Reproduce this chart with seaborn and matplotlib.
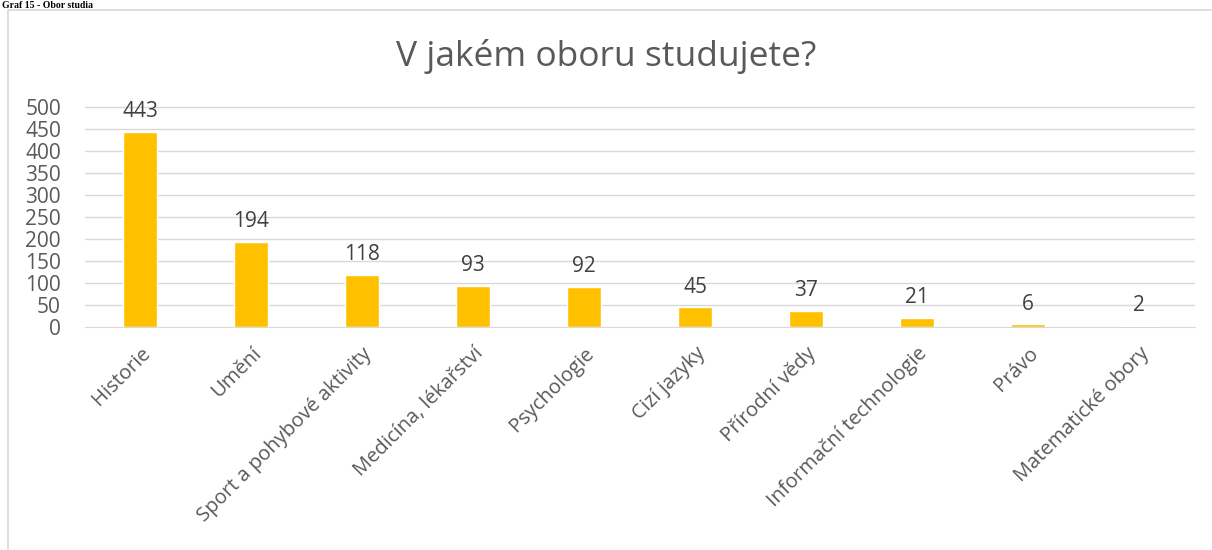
import matplotlib
matplotlib.use("Agg")
import pandas as pd
import seaborn as sns
from matplotlib import pyplot as plt
from matplotlib.patches import Rectangle

obory = ["Historie", "Umění", "Sport a pohybové aktivity", "Medicína, lékařství",
         "Psychologie", "Cizí jazyky", "Přírodní vědy", "Informační technologie",
         "Právo", "Matematické obory"]
pocty = [443, 194, 118, 93, 92, 45, 37, 21, 6, 2]

sns.set_style("white")
plt.rcParams['font.family'] = ['Open Sans', 'DejaVu Sans']

df = pd.DataFrame({"obor": obory, "pocet": pocty})

fig = plt.figure(figsize=(12.12, 5.5), dpi=100)
ax = fig.add_axes([84.5 / 1212, 1 - 327 / 550, 1110 / 1212, 242 / 550])

sns.barplot(data=df, x="obor", y="pocet", color="#FFC000", width=0.31,
            saturation=1, ax=ax, zorder=3)

for i, v in enumerate(pocty):
    ax.text(i, v + 22, str(v), ha="center", va="bottom", fontsize=15, color="#404040")

ax.set_ylim(0, 550)
ax.set_yticks(range(0, 501, 50))
ax.tick_params(axis="y", labelsize=15, labelcolor="#595959", length=0, pad=17)
ax.tick_params(axis="x", labelsize=14.5, labelcolor="#595959", length=0, pad=12)
plt.setp(ax.get_xticklabels(), rotation=45, ha="right", rotation_mode="anchor")
ax.set_xlabel("")
ax.set_ylabel("")
ax.set_xlim(-0.5, len(obory) - 0.5)

# gridlines only up to 500
for y in range(50, 501, 50):
    ax.axhline(y, color="#D9D9D9", lw=1, zorder=1)
for s in ["top", "right", "left"]:
    ax.spines[s].set_visible(False)
ax.spines["bottom"].set_color("#D9D9D9")

fig.text(0.5, 1 - 57 / 550, "V jakém oboru studujete?", ha="center", va="center",
         fontsize=25.5, color="#595959")

# chart border
fig.add_artist(Rectangle((8 / 1212, -0.01), 1.01 - 8 / 1212, 1 - 10 / 550 + 0.01,
                         transform=fig.transFigure, fill=False,
                         edgecolor="#D9D9D9", lw=1.2))

fig.text(2 / 1212, 1 - 0.5 / 550, "Graf 15 - Obor studia", ha="left", va="top",
         fontsize=7, fontweight="bold", family=["Liberation Serif"], color="black")

fig.savefig("out.png", dpi=100)
